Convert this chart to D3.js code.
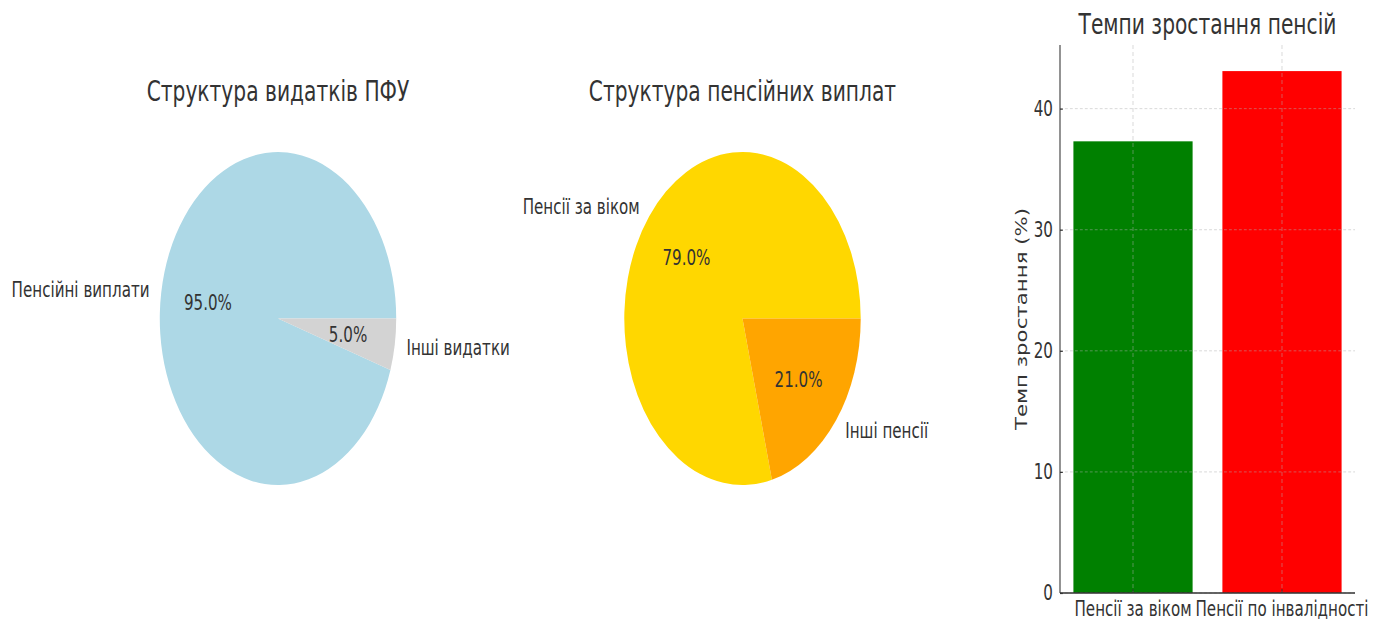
<!DOCTYPE html>
<html>
<head>
<meta charset="utf-8">
<script src="https://cdn.jsdelivr.net/npm/d3@7"></script>
<style>
  body { margin: 0; background: #fff; }
  text { font-family: "DejaVu Sans", sans-serif; fill: #333; }
</style>
</head>
<body>
<div id="chart"></div>
<script>
// pie 1
var spendLabels = ["Пенсійні виплати", "Інші видатки"];
var spendValues = [95, 5];
var spendColors = ["#add8e6", "#d3d3d3"];
// pie 2
var pensionLabels = ["Пенсії за віком", "Інші пенсії"];
var pensionValues = [79, 21];
var pensionColors = ["#ffd700", "#ffa500"];
// bars
var growthCats = ["Пенсії за віком", "Пенсії по інвалідності"];
var growthValues = [37.3, 43.1];
var growthColors = ["#008000", "#ff0000"];
var growthTicks = [0, 10, 20, 30, 40];

var width = 1384, height = 621;
var sx = 0.71; // the whole figure is squeezed horizontally
var labelSize = "21.3px", titleSize = "28.5px";

var svg = d3.select("#chart").append("svg")
    .attr("width", width)
    .attr("height", height);
var g = svg.append("g").attr("transform", "scale(" + sx + ",1)");

function drawPie(cx, cy, r, title, labels, values, colors) {
    var pg = g.append("g").attr("transform", "translate(" + cx + "," + cy + ")");
    var pie = d3.pie().sort(null)
        .startAngle(Math.PI / 2)
        .endAngle(Math.PI / 2 - 2 * Math.PI);
    var arc = d3.arc().innerRadius(0).outerRadius(r);
    var arcs = pie(values);

    pg.selectAll("path")
        .data(arcs)
      .enter().append("path")
        .attr("d", arc)
        .attr("fill", function(d, i) { return colors[i]; });

    arcs.forEach(function(d, i) {
        var a = (d.startAngle + d.endAngle) / 2;
        var lx = 1.1 * r * Math.sin(a), ly = -1.1 * r * Math.cos(a);
        pg.append("text")
            .attr("x", lx).attr("y", ly)
            .attr("dominant-baseline", "central")
            .attr("text-anchor", lx > 0 ? "start" : "end")
            .style("font-size", labelSize)
            .text(labels[i]);
        var px = 0.6 * r * Math.sin(a), py = -0.6 * r * Math.cos(a);
        pg.append("text")
            .attr("x", px).attr("y", py)
            .attr("dominant-baseline", "central")
            .attr("text-anchor", "middle")
            .style("font-size", labelSize)
            .text(d3.format(".1f")(values[i] / d3.sum(values) * 100) + "%");
    });

    g.append("text")
        .attr("x", cx).attr("y", 101)
        .attr("text-anchor", "middle")
        .style("font-size", titleSize)
        .text(title);
}

drawPie(278 / sx, 318.5, 166.5, "Структура видатків ПФУ", spendLabels, spendValues, spendColors);
drawPie(742.5 / sx, 318.5, 166.5, "Структура пенсійних виплат", pensionLabels, pensionValues, pensionColors);

// bar chart
var axLeft = 1060 / sx, axRight = 1355 / sx, axTop = 45, axBottom = 593;
var x = d3.scaleBand().domain(growthCats).range([axLeft, axRight])
    .paddingInner(0.2).paddingOuter(0.09);
var y = d3.scaleLinear().domain([0, d3.max(growthValues) * 1.05]).range([axBottom, axTop]);

var bg = g.append("g");

bg.selectAll(".bar")
    .data(growthCats)
  .enter().append("rect")
    .attr("class", "bar")
    .attr("x", function(d) { return x(d); })
    .attr("width", x.bandwidth())
    .attr("y", function(d, i) { return y(growthValues[i]); })
    .attr("height", function(d, i) { return axBottom - y(growthValues[i]); })
    .attr("fill", function(d, i) { return growthColors[i]; });

// grid
bg.selectAll(".hgrid")
    .data(growthTicks)
  .enter().append("line")
    .attr("x1", axLeft).attr("x2", axRight)
    .attr("y1", function(d) { return y(d); })
    .attr("y2", function(d) { return y(d); })
    .attr("stroke", "#b0b0b0").attr("stroke-opacity", 0.7)
    .attr("stroke-width", 0.8).attr("stroke-dasharray", "4,3");
bg.selectAll(".vgrid")
    .data(growthCats)
  .enter().append("line")
    .attr("x1", function(d) { return x(d) + x.bandwidth() / 2; })
    .attr("x2", function(d) { return x(d) + x.bandwidth() / 2; })
    .attr("y1", axTop).attr("y2", axBottom)
    .attr("stroke", "#b0b0b0").attr("stroke-opacity", 0.7)
    .attr("stroke-width", 0.8).attr("stroke-dasharray", "4,3");

// axes
var yAxis = d3.axisLeft(y).tickValues(growthTicks).tickSize(-4).tickPadding(10);
var yg = bg.append("g")
    .attr("transform", "translate(" + axLeft + ",0)")
    .call(yAxis);
yg.select(".domain").attr("d", "M0," + axTop + "V" + axBottom)
    .attr("stroke", "#333").attr("stroke-width", 1.5);
yg.selectAll(".tick line").attr("stroke", "#333").attr("stroke-width", 1.2);
yg.selectAll(".tick text").style("font-size", labelSize).style("font-family", "DejaVu Sans").attr("fill", "#333");

var xAxis = d3.axisBottom(x).tickSize(-4).tickPadding(8);
var xg = bg.append("g")
    .attr("transform", "translate(0," + axBottom + ")")
    .call(xAxis);
xg.select(".domain").attr("d", "M" + axLeft + ",0H" + axRight)
    .attr("stroke", "#333").attr("stroke-width", 1.5);
xg.selectAll(".tick line").attr("stroke", "#333").attr("stroke-width", 1.2);
xg.selectAll(".tick text").style("font-size", labelSize).style("font-family", "DejaVu Sans").attr("fill", "#333");

bg.append("text")
    .attr("transform", "translate(" + (1022 / sx) + "," + ((axTop + axBottom) / 2) + ") rotate(-90)")
    .attr("text-anchor", "middle")
    .attr("dominant-baseline", "central")
    .style("font-size", labelSize)
    .text("Темп зростання (%)");

bg.append("text")
    .attr("x", (axLeft + axRight) / 2).attr("y", 34)
    .attr("text-anchor", "middle")
    .style("font-size", titleSize)
    .text("Темпи зростання пенсій");
</script>
</body>
</html>
